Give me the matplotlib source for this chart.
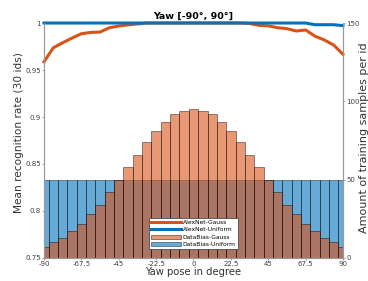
import numpy as np
import matplotlib.pyplot as plt

# yaw bin centres, -90 .. 90 in 33 steps
yaw = [-90 + 5.625 * k for k in range(33)]

acc_gauss = [0.9588, 0.9737, 0.979, 0.984, 0.9886, 0.990, 0.9904, 0.995, 0.9968, 0.998, 0.999,
             1.0, 1.0, 1.0, 1.0, 1.0, 1.0, 1.0, 1.0, 1.0, 1.0, 1.0, 0.9995, 0.9975,
             0.997, 0.995, 0.994, 0.9915, 0.9926, 0.986, 0.982, 0.9766, 0.9667]
acc_uniform = [1.0] * 28 + [1.0, 0.9982, 0.9982, 0.9982, 0.9972]

n_gauss = [7, 10, 13, 17, 22, 28, 34, 42, 50, 58, 66, 74, 81, 87, 92, 94, 95,
           94, 92, 87, 81, 74, 66, 58, 50, 42, 34, 28, 22, 17, 13, 10, 7]
n_uniform = [50] * 33

xticks = [-90, -67.5, -45, -22.5, 0, 22.5, 45, 67.5, 90]
xticklabels = ['-90', '-67.5', '-45', '-22.5', '0', '22.5', '45', '67.5', '90']

c_orange = '#D95319'
c_blue = '#0072BD'

fig = plt.figure(figsize=(3.68, 2.81), dpi=100)
ax = fig.add_axes([0.1196, 0.0819, 0.8124, 0.8362])
ax2 = ax.twinx()

# histograms on the right axis
w = 5.625
b1 = ax2.bar(yaw, n_uniform, width=w, color=c_blue, alpha=0.6,
             edgecolor='k', linewidth=0.5, label='DataBias-Uniform')
b2 = ax2.bar(yaw, n_gauss, width=w, color=c_orange, alpha=0.6,
             edgecolor='k', linewidth=0.5, label='DataBias-Gauss')
ax2.set_ylim(0, 150)
ax2.set_yticks([0, 50, 100, 150])

# accuracy curves on the left axis, drawn above the bars
ax.set_zorder(ax2.get_zorder() + 1)
ax.patch.set_visible(False)
l1, = ax.plot(yaw, acc_gauss, color=c_orange, lw=2.2, label='AlexNet-Gauss', clip_on=False)
l2, = ax.plot(yaw, acc_uniform, color=c_blue, lw=2.2, label='AlexNet-Uniform', clip_on=False)
ax.set_ylim(0.75, 1)
ax.set_yticks([0.75, 0.8, 0.85, 0.9, 0.95, 1])
ax.set_yticklabels(['0.75', '0.8', '0.85', '0.9', '0.95', '1'])
ax.set_xlim(-90, 90)
ax.set_xticks(xticks)
ax.set_xticklabels(xticklabels)

for a in (ax, ax2):
    a.tick_params(labelsize=5, length=1.5, width=0.5, color='0.5', labelcolor='0.25', pad=0.8)
    a.spines['top'].set_visible(False)
    for s in ('left', 'right', 'bottom'):
        a.spines[s].set_color('0.6')
        a.spines[s].set_linewidth(0.8)

ax.set_title('Yaw [-90°, 90°]', fontsize=6.8, fontweight='bold', pad=3)
ax.set_xlabel('Yaw pose in degree', fontsize=7.2, color='0.2', labelpad=0)
ax.set_ylabel('Mean recognition rate (30 ids)', fontsize=7.6, color='0.2',
              ha='center', va='center')
ax.yaxis.set_label_coords(-0.082, 0.535)
ax2.set_ylabel('Amount of training samples per id', fontsize=8, color='0.2',
               rotation=90, ha='center', va='center')
ax2.yaxis.set_label_coords(1.071, 0.51)

leg = ax.legend([l1, l2, b2, b1],
                ['AlexNet-Gauss', 'AlexNet-Uniform', 'DataBias-Gauss', 'DataBias-Uniform'],
                loc='lower center', bbox_to_anchor=(0.5, 0.025), fontsize=4.3,
                handlelength=5, handletextpad=0.2, labelspacing=0.35, borderpad=0.35,
                fancybox=False, framealpha=1, edgecolor='0.3')
leg.get_frame().set_linewidth(0.6)

fig.savefig('out.png', dpi=100)
